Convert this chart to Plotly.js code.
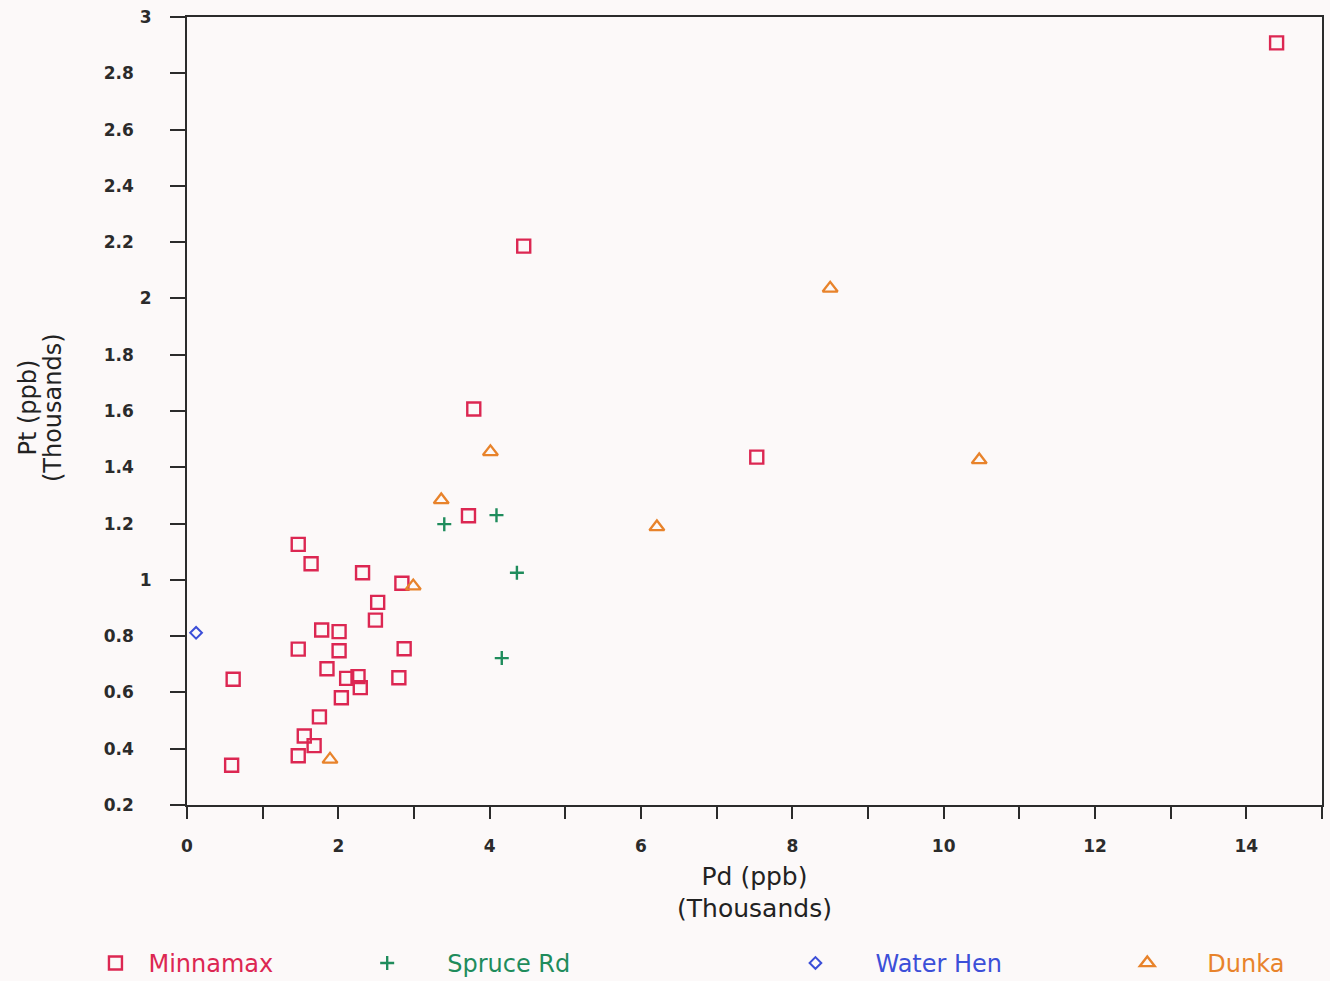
<!DOCTYPE html>
<html>
<head>
<meta charset="utf-8">
<script src="https://cdn.plot.ly/plotly-3.0.1.min.js"></script>
<style>
  html, body { margin: 0; padding: 0; background: #fcf9f9; }
  #chart { width: 1330px; height: 981px; }
</style>
</head>
<body>
<div id="chart"></div>
<script>
// Pd vs Pt concentrations (ppb, thousands) by deposit
const minnamaxPd = [14.40, 4.45, 3.79, 7.53, 3.72, 1.47, 1.64, 2.32, 2.84, 2.52, 2.49, 1.78, 2.01, 1.47,
                    2.01, 2.87, 1.85, 2.11, 2.26, 2.29, 2.80, 2.04, 0.61, 1.75, 1.55, 1.68, 1.47, 0.59];
const minnamaxPt = [2.908, 2.186, 1.607, 1.436, 1.228, 1.126, 1.057, 1.025, 0.988, 0.920, 0.857, 0.822, 0.816, 0.754,
                    0.748, 0.755, 0.684, 0.650, 0.656, 0.617, 0.652, 0.581, 0.647, 0.513, 0.445, 0.411, 0.375, 0.341];

const spruceRdPd = [3.40, 4.09, 4.36, 4.16];
const spruceRdPt = [1.198, 1.230, 1.025, 0.722];

const waterHenPd = [0.12];
const waterHenPt = [0.812];

const dunkaPd = [8.50, 10.47, 4.01, 3.36, 6.21, 2.99, 1.89];
const dunkaPt = [2.036, 1.426, 1.455, 1.284, 1.188, 0.978, 0.362];

const seriesNames = ['Minnamax', 'Spruce Rd', 'Water Hen', 'Dunka'];

const xTickVals = [0, 2, 4, 6, 8, 10, 12, 14];
const xTickLabels = ['0', '2', '4', '6', '8', '10', '12', '14'];
const yTickVals = [0.2, 0.4, 0.6, 0.8, 1, 1.2, 1.4, 1.6, 1.8, 2, 2.2, 2.4, 2.6, 2.8, 3];
const yTickLabels = ['0.2', '0.4', '0.6', '0.8', '1', '1.2', '1.4', '1.6', '1.8', '2', '2.2', '2.4', '2.6', '2.8', '3'];

const yTitleLines = ['Pt (ppb)', '(Thousands)'];

const FONT = 'DejaVu Sans, Verdana, sans-serif';
const AXIS = '#2b2b2b';

// Per-series styling
const styles = [
  { color: '#dc2752', symbol: 'square-open', size: 13, width: 2.4 },
  { color: '#1f8c5c', symbol: 'cross-thin', size: 10, width: 2.4 },
  { color: '#3c4fd8', symbol: 'diamond-open', size: 9, width: 2 },
  { color: '#e8832b', symbol: 'triangle-up-open', size: 13, width: 2.3 }
];
const xs = [minnamaxPd, spruceRdPd, waterHenPd, dunkaPd];
const ys = [minnamaxPt, spruceRdPt, waterHenPt, dunkaPt];
const legendIds = ['legend', 'legend2', 'legend3', 'legend4'];

const traces = seriesNames.map((name, i) => ({
  type: 'scatter',
  mode: 'markers',
  name: name,
  x: xs[i],
  y: ys[i],
  legend: legendIds[i],
  marker: {
    symbol: styles[i].symbol,
    size: styles[i].size,
    color: styles[i].color,
    line: { color: styles[i].color, width: styles[i].width }
  },
  hoverinfo: 'x+y+name'
}));

// Integer labels sit further right than the one-decimal labels
const yTickText = yTickLabels.map(t => t.indexOf('.') >= 0 ? t + '\u2007\u00a0' : t);

// One legend per series, laid out along the bottom
const legendX = [0.062, 0.246, 0.568, 0.8175];
const itemWidths = [56, 110, 110, 110];
function legendBox(i) {
  return {
    orientation: 'h',
    x: legendX[i],
    xref: 'container',
    xanchor: 'left',
    y: 0.018,
    yref: 'container',
    yanchor: 'middle',
    bgcolor: 'rgba(0,0,0,0)',
    borderwidth: 0,
    itemwidth: itemWidths[i],
    itemclick: false,
    font: { family: FONT, size: 24, color: styles[i].color }
  };
}

// Two-line vertical axis title, set tight like the plotter original
const yTitleX = [-0.1405, -0.1180];
const annotations = yTitleLines.map((line, i) => ({
  text: line,
  xref: 'paper',
  yref: 'paper',
  x: yTitleX[i],
  y: 0.5038,
  xanchor: 'center',
  yanchor: 'middle',
  textangle: -90,
  showarrow: false,
  font: { family: FONT, size: 24, color: '#222' }
}));

const layout = {
  width: 1330,
  height: 981,
  paper_bgcolor: '#fcf9f9',
  plot_bgcolor: '#fcf9f9',
  margin: { l: 187, r: 8, t: 17, b: 176 },
  showlegend: true,
  legend: legendBox(0),
  legend2: legendBox(1),
  legend3: legendBox(2),
  legend4: legendBox(3),
  annotations: annotations,
  xaxis: {
    range: [0, 15],
    tickvals: xTickVals,
    ticktext: xTickLabels,
    ticks: 'outside',
    ticklen: 12,
    tickwidth: 2,
    tickcolor: AXIS,
    minor: { dtick: 1, ticks: 'outside', ticklen: 12, tickwidth: 2, tickcolor: AXIS, showgrid: false },
    ticklabelstandoff: 13,
    showline: true,
    linecolor: AXIS,
    linewidth: 2,
    mirror: true,
    showgrid: false,
    zeroline: false,
    tickfont: { family: FONT, size: 17, color: AXIS, weight: 'bold' },
    title: {
      text: 'Pd (ppb)<br>(Thousands)',
      font: { family: FONT, size: 25, color: '#222' },
      standoff: 12
    }
  },
  yaxis: {
    range: [0.2, 3],
    tickvals: yTickVals,
    ticktext: yTickText,
    ticks: 'outside',
    ticklen: 15,
    tickwidth: 2,
    tickcolor: AXIS,
    ticklabelstandoff: 15,
    showline: true,
    linecolor: AXIS,
    linewidth: 2,
    mirror: true,
    showgrid: false,
    zeroline: false,
    tickfont: { family: FONT, size: 17, color: AXIS, weight: 'bold' }
  }
};

Plotly.newPlot('chart', traces, layout, { displayModeBar: false });
</script>
</body>
</html>
